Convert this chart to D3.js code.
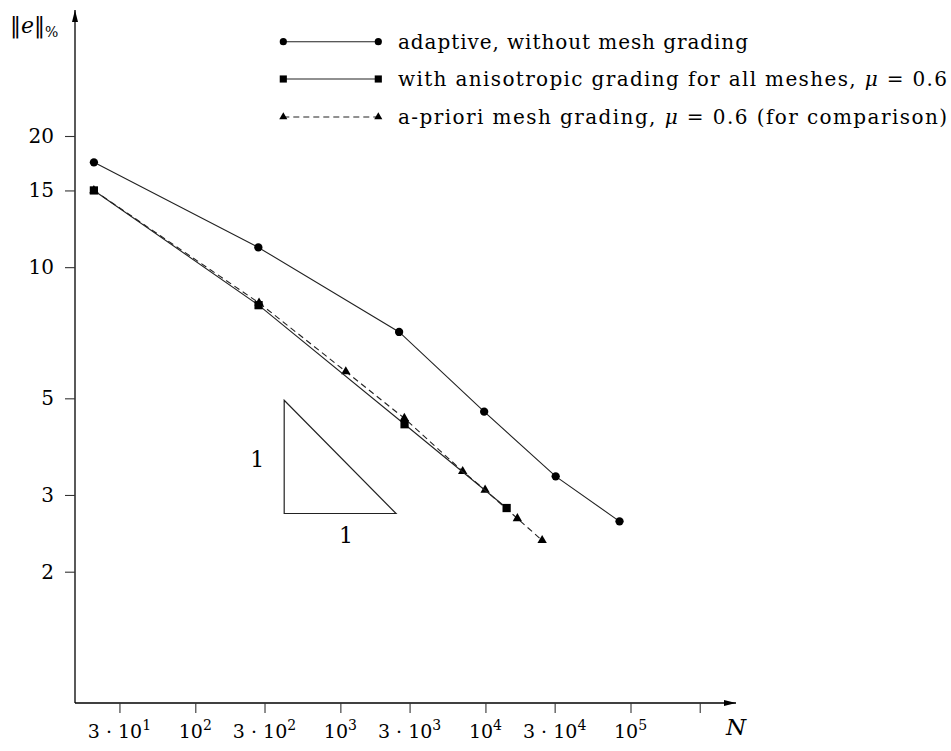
<!DOCTYPE html>
<html>
<head>
<meta charset="utf-8">
<script src="https://cdn.jsdelivr.net/npm/d3@7"></script>
<style>
  body { margin: 0; background: #fff; }
  svg text { font-family: "DejaVu Serif", serif; fill: #000; }
</style>
</head>
<body>
<svg width="951" height="751"></svg>
<script>
// values
var adaptiveN   = [20, 272, 2540, 9800, 30500, 84000];
var adaptiveErr = [17.4, 11.1, 7.1, 4.66, 3.31, 2.61];
var gradedN     = [20, 273, 2770, 14000];
var gradedErr   = [15.0, 8.18, 4.36, 2.80];
var aprioriN    = [20, 275, 1090, 2760, 6970, 9950, 16600, 24600];
var aprioriErr  = [15.0, 8.28, 5.76, 4.50, 3.40, 3.08, 2.65, 2.36];
var slopeTriN   = [410, 410, 2420];
var slopeTriErr = [4.95, 2.72, 2.72];

var xTickValues = [30, 100, 300, 1000, 3000, 10000, 30000, 100000, 300000];
var xTickLabels = [["3 · 10", "1"], ["10", "2"], ["3 · 10", "2"], ["10", "3"], ["3 · 10", "3"],
                   ["10", "4"], ["3 · 10", "4"], ["10", "5"], null];
var yTickValues = [2, 3, 5, 10, 15, 20];
var legendLabels = [
  [["adaptive, without mesh grading", ""]],
  [["with anisotropic grading for all meshes, ", ""], ["μ", "i"], [" = 0.6", ""]],
  [["a-priori mesh grading, ", ""], ["μ", "i"], [" = 0.6 (for comparison)", ""]]
];
var legendWidths = [350, 549, 549];

var svg = d3.select("svg");
var xScale = d3.scaleLog().domain([100, 100000]).range([195.3, 630.5]);
var yScale = d3.scaleLog().domain([2, 20]).range([571.7, 136]);
var axisX0 = 75, axisY0 = 703;

// arrow head
svg.append("defs").append("marker").attr("id", "arr")
  .attr("viewBox", "0 0 12 6").attr("refX", 12).attr("refY", 3)
  .attr("markerWidth", 12).attr("markerHeight", 6).attr("markerUnits", "userSpaceOnUse")
  .attr("orient", "auto")
  .append("path").attr("d", "M0,0 L12,3 L0,6 Z").attr("fill", "#000");

// axes
svg.append("line").attr("x1", axisX0).attr("y1", axisY0).attr("x2", 736).attr("y2", axisY0)
  .attr("stroke", "#000").attr("stroke-width", 1.3).attr("marker-end", "url(#arr)");
svg.append("line").attr("x1", axisX0).attr("y1", axisY0).attr("x2", axisX0).attr("y2", 10)
  .attr("stroke", "#000").attr("stroke-width", 1.3).attr("marker-end", "url(#arr)");

var xAxisG = svg.append("g").attr("transform", `translate(0,${axisY0})`)
  .call(d3.axisBottom(xScale).tickValues(xTickValues).tickSize(10).tickFormat(""));
xAxisG.select(".domain").remove();
xAxisG.selectAll(".tick line").attr("stroke", "#333").attr("stroke-width", 1.1);

var yAxisG = svg.append("g").attr("transform", `translate(${axisX0},0)`)
  .call(d3.axisLeft(yScale).tickValues(yTickValues).tickSize(10).tickFormat(""));
yAxisG.select(".domain").remove();
yAxisG.selectAll(".tick line").attr("stroke", "#333").attr("stroke-width", 1.1);

// x tick labels with superscripts
xTickValues.forEach(function (v, i) {
  var lab = xTickLabels[i];
  if (!lab) return;
  var t = svg.append("text").attr("x", xScale(v)).attr("y", 738)
    .attr("text-anchor", "middle").attr("font-size", 19);
  t.append("tspan").text(lab[0]);
  t.append("tspan").attr("dy", -8).attr("font-size", 14).text(lab[1]);
});

// y tick labels
yTickValues.forEach(function (v) {
  svg.append("text").attr("x", 54).attr("y", yScale(v) + 7)
    .attr("text-anchor", "end").attr("font-size", 20).text(v);
});

// axis titles
var yl = svg.append("text").attr("x", 10).attr("y", 33).attr("font-size", 22);
yl.append("tspan").text("‖");
yl.append("tspan").attr("font-style", "italic").text("e");
yl.append("tspan").text("‖");
yl.append("tspan").attr("dy", 4).attr("font-size", 14).text("%");
svg.append("text").attr("x", 736).attr("y", 735).attr("text-anchor", "middle")
  .attr("font-size", 23).attr("font-style", "italic").text("N");

// slope triangle
var tri = slopeTriN.map(function (n, i) { return [xScale(n), yScale(slopeTriErr[i])]; });
svg.append("path").attr("d", d3.line()(tri) + "Z")
  .attr("fill", "none").attr("stroke", "#222").attr("stroke-width", 1.2);
svg.append("text").attr("x", tri[0][0] - 27).attr("y", (tri[0][1] + tri[1][1]) / 2 + 10)
  .attr("text-anchor", "middle").attr("font-size", 22).text("1");
svg.append("text").attr("x", (tri[1][0] + tri[2][0]) / 2 + 6).attr("y", tri[1][1] + 29)
  .attr("text-anchor", "middle").attr("font-size", 22).text("1");

// series
var line = d3.line().x(function (d) { return xScale(d[0]); }).y(function (d) { return yScale(d[1]); });
function zipPts(a, b) { return a.map(function (n, i) { return [n, b[i]]; }); }

var series = [
  { pts: zipPts(aprioriN, aprioriErr), dash: "6,4", shape: d3.symbolTriangle, size: 38 },
  { pts: zipPts(gradedN, gradedErr), dash: null, shape: d3.symbolSquare, size: 68 },
  { pts: zipPts(adaptiveN, adaptiveErr), dash: null, shape: d3.symbolCircle, size: 54 }
];

series.forEach(function (s) {
  svg.append("path").attr("d", line(s.pts)).attr("fill", "none")
    .attr("stroke", "#222").attr("stroke-width", 1.1)
    .attr("stroke-dasharray", s.dash);
  svg.selectAll(null).data(s.pts).enter().append("path")
    .attr("transform", function (d) { return `translate(${xScale(d[0])},${yScale(d[1])})`; })
    .attr("d", d3.symbol().type(s.shape).size(s.size)).attr("fill", "#000");
});

// legend
var legY = [41.7, 79, 117];
var legStyle = [series[2], series[1], series[0]];
legY.forEach(function (y, i) {
  var s = legStyle[i];
  svg.append("line").attr("x1", 283.3).attr("x2", 378.3).attr("y1", y).attr("y2", y)
    .attr("stroke", "#222").attr("stroke-width", 1.1).attr("stroke-dasharray", s.dash);
  [283.3, 378.3].forEach(function (x) {
    svg.append("path").attr("transform", `translate(${x},${y})`)
      .attr("d", d3.symbol().type(s.shape).size(s.size * 0.75)).attr("fill", "#000");
  });
  var t = svg.append("text").attr("x", 398).attr("y", y + 7).attr("font-size", 20)
    .attr("textLength", legendWidths[i]).attr("lengthAdjust", "spacing");
  legendLabels[i].forEach(function (p) {
    t.append("tspan").attr("font-style", p[1] ? "italic" : null).text(p[0]);
  });
});
</script>
</body>
</html>
